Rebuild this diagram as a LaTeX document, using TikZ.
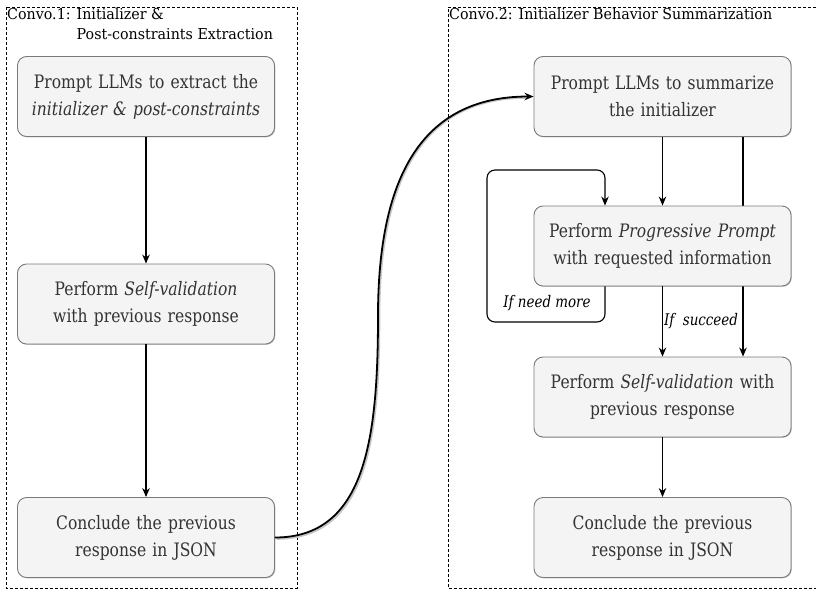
\documentclass[tikz,border=0pt]{standalone}
\usepackage{fontspec}
\setmainfont{DejaVu Serif}[FakeStretch=0.84]
\newfontfamily\labelfont{DejaVu Serif}[FakeStretch=0.95]
\usetikzlibrary{arrows.meta,shadows,backgrounds}
\definecolor{boxfill}{HTML}{F4F4F4}
\definecolor{boxline}{HTML}{7A7A7A}
\definecolor{txt}{HTML}{333333}
\begin{document}
\begin{tikzpicture}[x=1pt,y=-1pt,
    stepbox/.style={draw=boxline,fill=boxfill,rounded corners=9pt,line width=0.9pt,
      minimum width=257pt,minimum height=80pt,text width=250pt,align=center,
      text=txt,font=\fontsize{18.5}{27}\selectfont,
      drop shadow={shadow xshift=0.8pt,shadow yshift=-0.8pt,fill=black,opacity=0.25}},
    frame/.style={dashed,line width=0.7pt,dash pattern=on 3pt off 2pt},
    framelabel/.style={anchor=north west,align=left,inner sep=0pt,
      font=\labelfont\fontsize{15}{20}\selectfont},
    flow/.style={-{Stealth[length=9pt,width=7.5pt]},line width=1.1pt},
    cond/.style={font=\fontsize{16}{18}\selectfont\itshape,inner sep=1pt}]
  \useasboundingbox (0,0) rectangle (816,590);
  % frames
  \draw[frame] (6,7) rectangle (297,588);
  \draw[frame] (816,7) -- (448,7) -- (448,588) -- (816,588);
  \node[framelabel] (T1) at (7,8) {Convo.1: Initializer \&\\\hphantom{Convo.1: }Post-constraints Extraction};
  \node[framelabel] (T2) at (449,8) {Convo.2: Initializer Behavior Summarization};
  % left column
  \node[stepbox] (L1) at (146,96.5) {Prompt LLMs to extract the\\\textit{initializer \& post-constraints}};
  \node[stepbox] (L2) at (146,304) {Perform \textit{Self-validation}\\with previous response};
  \node[stepbox] (L3) at (146,537.5) {Conclude the previous\\response in JSON};
  \draw[flow] (L1) -- (L2);
  \draw[flow] (L2) -- (L3);
  % right column
  \node[stepbox] (R1) at (662.5,96.5) {Prompt LLMs to summarize\\the initializer};
  \node[stepbox] (R2) at (662.5,246) {Perform \textit{Progressive Prompt}\\with requested information};
  \node[stepbox] (R3) at (662.5,397) {Perform \textit{Self-validation} with\\previous response};
  \node[stepbox] (R4) at (662.5,537.5) {Conclude the previous\\response in JSON};
  \draw[flow] (R1) -- (R2);
  \draw[flow] (R2) -- node[cond,anchor=west]{If~~succeed} (R3);
  \begin{scope}[on background layer]
    \draw[flow] (R1.south -| 743,0) -- (R3.north -| 743,0);
  \end{scope}
  \draw[flow] (R3) -- (R4);
  % loop back
  \coordinate (Lp) at (605,0);
  \draw[flow,rounded corners=8pt] (R2.south -| Lp) -- (605,322) -- (487,322)
    -- (487,170) -- (605,170) -- (R2.north -| Lp);
  \node[cond] (NM) at (547,303) {If need more};
  % hand-over between conversations
  \coordinate (Mid) at (378,316);
  \draw[gray!45,line width=1.8pt,transform canvas={xshift=1.4pt,yshift=-1.4pt}]
    (L3.east) .. controls (365,537.5) and (378,440) .. (Mid)
    .. controls (378,180) and (420,96.5) .. ([xshift=-9pt]R1.west);
  \draw[flow,line width=1.8pt] (L3.east) .. controls (365,537.5) and (378,440) .. (Mid)
    .. controls (378,180) and (420,96.5) .. (R1.west);
\end{tikzpicture}
\end{document}
